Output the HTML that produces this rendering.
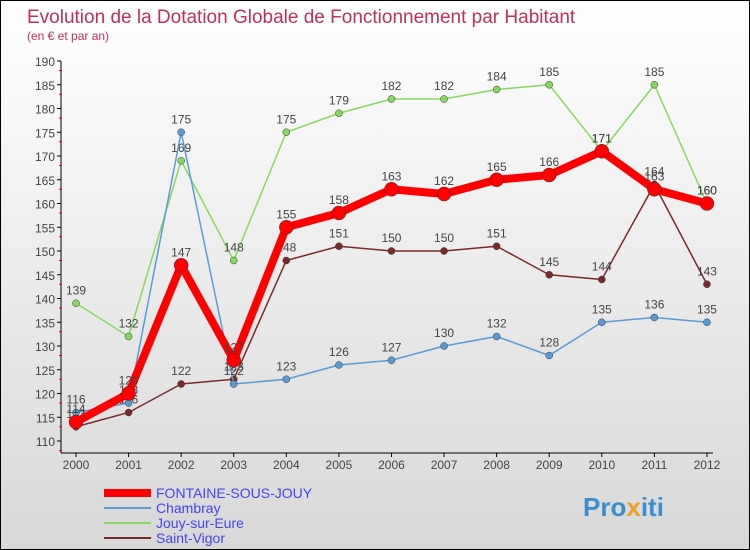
<!DOCTYPE html>
<html><head><meta charset="utf-8"><style>
body{margin:0}
#c{width:748px;height:548px;border:1px solid #000;background:linear-gradient(#fff,#d8d8d8);position:relative;font-family:"Liberation Sans",sans-serif;overflow:hidden}
</style></head><body>
<div id="c">
<svg width="748" height="548" id="s">
<text x="26" y="22" font-size="19" fill="#c0305a">Evolution de la Dotation Globale de Fonctionnement par Habitant</text>
<text x="26" y="39" font-size="12" fill="#c0305a">(en € et par an)</text>
<g id="ax"></g><g id="ser"></g>
<g>
<line x1="103" y1="492" x2="150" y2="492" stroke="#f00" stroke-width="8"/><text x="155" y="497" font-size="14" fill="#4444ee">FONTAINE-SOUS-JOUY</text>
<line x1="103" y1="507" x2="150" y2="507" stroke="#5a9bd5" stroke-width="2"/><text x="155" y="512" font-size="14" fill="#4444ee">Chambray</text>
<line x1="103" y1="522" x2="150" y2="522" stroke="#88d860" stroke-width="2"/><text x="155" y="527" font-size="14" fill="#4444ee">Jouy-sur-Eure</text>
<line x1="103" y1="537" x2="150" y2="537" stroke="#7a2a2a" stroke-width="2"/><text x="155" y="542" font-size="14" fill="#4444ee">Saint-Vigor</text>
</g>
<text x="582" y="515" font-size="26" font-weight="bold" fill="#3a8fd0">Pro<tspan fill="#f0a020">x</tspan>iti</text>
</svg></div>
<script>
const years=[2000,2001,2002,2003,2004,2005,2006,2007,2008,2009,2010,2011,2012];
const yTicks=[110,115,120,125,130,135,140,145,150,155,160,165,170,175,180,185,190];
const fontaine=[114,120,147,127,155,158,163,162,165,166,171,163,160];
const chambray=[116,118,175,122,123,126,127,130,132,128,135,136,135];
const jouy=[139,132,169,148,175,179,182,182,184,185,171,185,160];
const vigor=[113,116,122,123,148,151,150,150,151,145,144,164,143];
const X=i=>75+i*52.58, Y=v=>440-(v-110)*4.75;
const NS="http://www.w3.org/2000/svg";
function mk(t,a,p){const e=document.createElementNS(NS,t);for(const k in a)e.setAttribute(k,a[k]);p.appendChild(e);return e;}
const ax=document.getElementById('ax');
let l=mk('line',{x1:60,y1:60,x2:60,y2:452,stroke:'#000'},ax);


l=mk('line',{x1:60,y1:452,x2:712,y2:452,stroke:'#000'},ax);


yTicks.forEach(v=>{mk('line',{x1:56,y1:Y(v),x2:60,y2:Y(v),stroke:'#000'},ax);
mk('line',{x1:58,y1:Y(v)+9.5,x2:61,y2:Y(v)+9.5,stroke:'#e00'},ax);
const t=mk('text',{x:54,y:Y(v)+5,'font-size':12,fill:'#444','text-anchor':'end'},ax);t.textContent=v;

});
years.forEach((y,i)=>{mk('line',{x1:X(i),y1:452,x2:X(i),y2:456,stroke:'#000'},ax);
const t=mk('text',{x:X(i),y:468,'font-size':12,fill:'#444','text-anchor':'middle'},ax);t.textContent=y;

});
const ser=document.getElementById('ser');
function draw(d,col,w,r,name){const g=mk('g',{},ser);


mk('polyline',{points:d.map((v,i)=>X(i)+','+Y(v)).join(' '),fill:'none',stroke:col,'stroke-width':w,'stroke-linejoin':'round'},g);
d.forEach((v,i)=>{const c=mk('circle',{cx:X(i),cy:Y(v),r:r,fill:col,stroke:'#333','stroke-width':0.5},g);


const t=mk('text',{x:X(i),y:Y(v)-9,'font-size':12,fill:'#444','text-anchor':'middle'},g);t.textContent=v;});}
draw(jouy,'#88d860',1.5,3.5,'series-jouy');
draw(vigor,'#7a2a2a',1.5,3.5,'series-saint-vigor');
draw(chambray,'#5a9bd5',1.5,3.5,'series-chambray');
draw(fontaine,'#f00',8,7,'series-fontaine');
</script>
</body></html>
